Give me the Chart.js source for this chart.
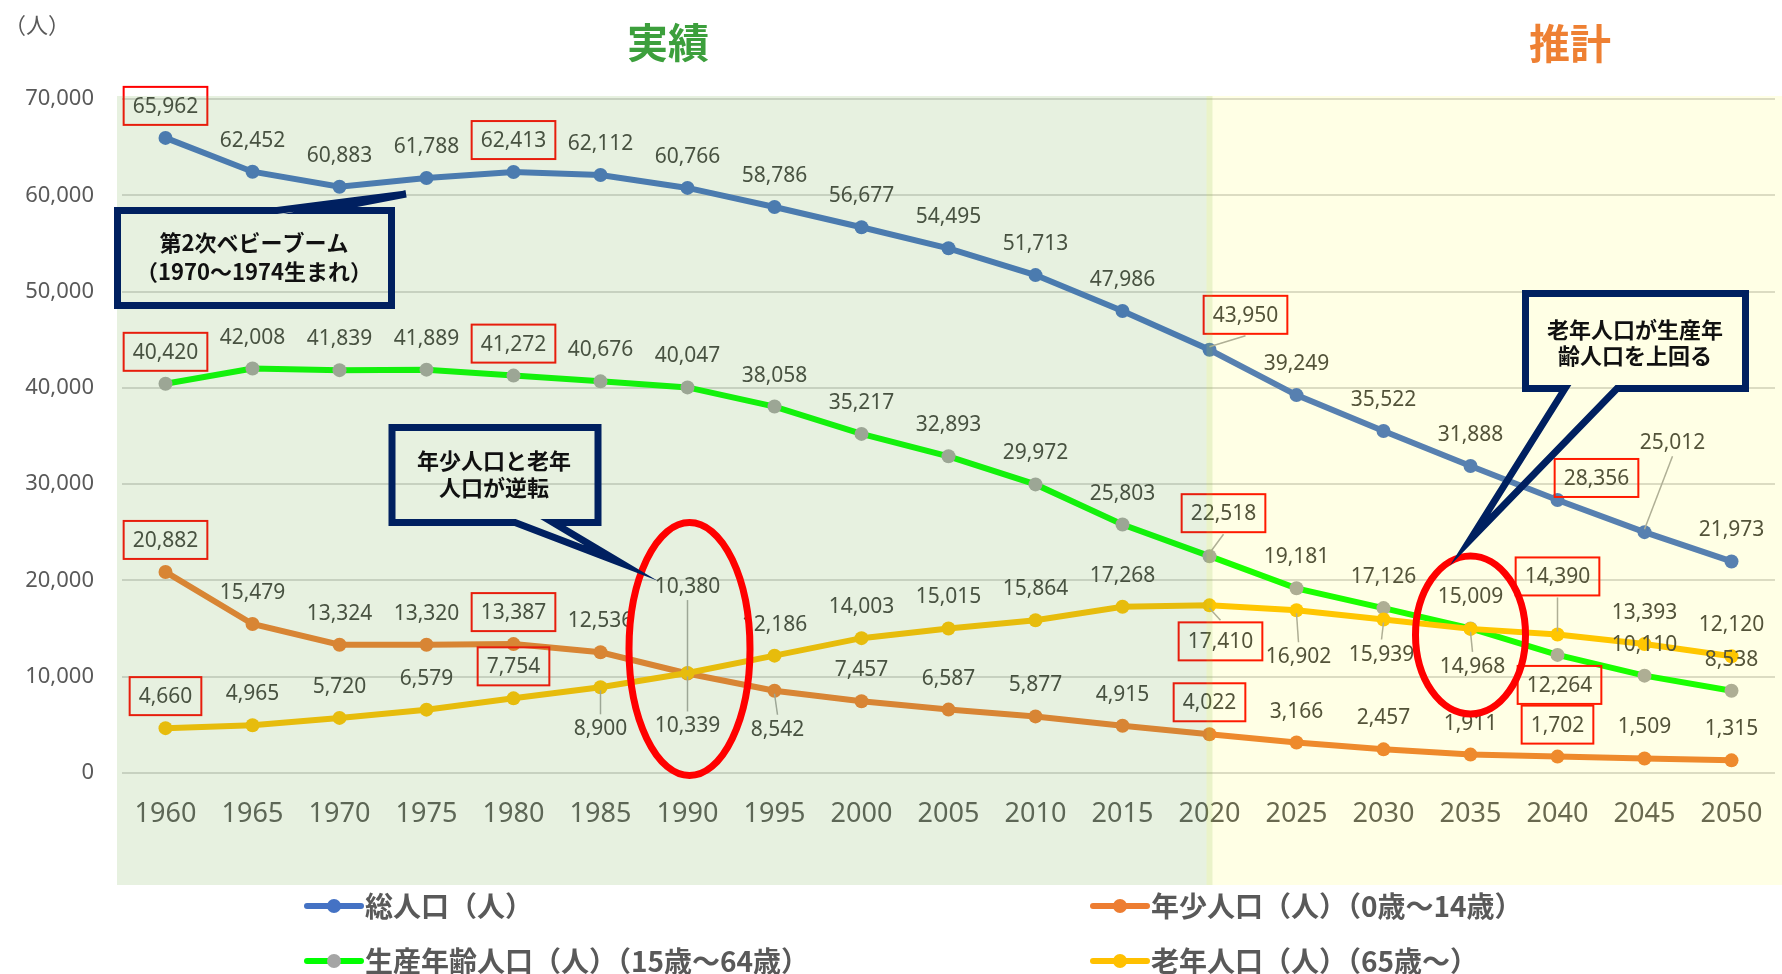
<!DOCTYPE html>
<html lang="ja">
<head>
  <meta charset="UTF-8" />
  <title>人口推移（実績・推計）</title>
  <script src="https://cdn.jsdelivr.net/npm/chart.js"></script>
  <style>
    body { margin: 0; background: #fff; }
    #popChart { display: block; }
  </style>
</head>
<body>
  <canvas id="popChart" width="1782" height="974"></canvas>

  <script>
    const years = ['1960', '1965', '1970', '1975', '1980', '1985', '1990', '1995', '2000', '2005',
                   '2010', '2015', '2020', '2025', '2030', '2035', '2040', '2045', '2050'];
    const totalPop = [65962, 62452, 60883, 61788, 62413, 62112, 60766, 58786, 56677, 54495,
                      51713, 47986, 43950, 39249, 35522, 31888, 28356, 25012, 21973];
    const youthPop = [20882, 15479, 13324, 13320, 13387, 12536, 10339, 8542, 7457, 6587,
                      5877, 4915, 4022, 3166, 2457, 1911, 1702, 1509, 1315];
    const workingPop = [40420, 42008, 41839, 41889, 41272, 40676, 40047, 38058, 35217, 32893,
                        29972, 25803, 22518, 19181, 17126, 15009, 12264, 10110, 8538];
    const elderlyPop = [4660, 4965, 5720, 6579, 7754, 8900, 10380, 12186, 14003, 15015,
                        15864, 17268, 17410, 16902, 15939, 14968, 14390, 13393, 12120];
    const yTickValues = [0, 10000, 20000, 30000, 40000, 50000, 60000, 70000];
    const seriesNames = ['総人口（人）', '年少人口（人）（0歳～14歳）', '生産年齢人口（人）（15歳～64歳）', '老年人口（人）（65歳～）'];
    const boxedYears = ['1960', '1980', '2020', '2040'];
    const splitYear = '2020';

    // ラベル位置の調整 [dx, dy, 引出線] （指定なしは真上）
    const labelMoves = [
      { 12: [36, -35, true], 16: [39, -22, false], 17: [28, -90, true] },
      { 6: [0, 52, true], 7: [3, 38, true] },
      { 12: [14, -43, true], 16: [2, 30, false] },
      { 5: [0, 41, true], 6: [0, -87, true], 12: [11, 36, true], 13: [2, 46, true],
        14: [-2, 34, true], 15: [2, 37, true], 16: [0, -58, true] }
    ];

    const colors = {
      total: '#4472C4',
      youth: '#ED7D31',
      working: '#00FF00',
      workingDot: '#A5A5A5',
      elderly: '#FFC000'
    };

    const callouts = [
      { rect: [117.5, 210.5, 391.5, 305.5], edge: 'top', base: [277, 320], tip: [406, 194],
        lines: ['第2次ベビーブーム', '（1970～1974生まれ）'], cx: 254, ys: [243, 272] },
      { rect: [392, 427.5, 598, 522.5], edge: 'bottom', base: [515, 553], tip: [621, 563],
        lines: ['年少人口と老年', '人口が逆転'], cx: 494, ys: [461, 488] },
      { rect: [1525.5, 293.5, 1745.5, 388.5], edge: 'bottom', base: [1565, 1617], tip: [1470, 540],
        lines: ['老年人口が生産年', '齢人口を上回る'], cx: 1635, ys: [330, 356] }
    ];

    const fmt = v => v.toLocaleString('en-US');
    const NUM_FONT = "'Noto Sans', sans-serif";
    const JP_FONT = "'Noto Sans CJK JP', 'Noto Sans', sans-serif";

    function drawValueLabel(ctx, pt, value, move, boxed) {
      const lx = pt.x + move[0];
      const ly = pt.y + move[1];
      const text = fmt(value);
      ctx.font = '21px ' + NUM_FONT;
      ctx.textAlign = 'center';
      ctx.textBaseline = 'middle';
      const w = ctx.measureText(text).width;
      const halfH = boxed ? 19 : 12;

      if (move[2]) {
        ctx.strokeStyle = '#A6A6A6';
        ctx.lineWidth = 1.5;
        ctx.beginPath();
        const dir = move[1] < 0 ? -1 : 1;
        ctx.moveTo(pt.x, pt.y + dir * 3);
        ctx.lineTo(lx, ly - dir * (halfH + 2));
        ctx.stroke();
      }
      if (boxed) {
        ctx.strokeStyle = '#FF0000';
        ctx.lineWidth = 2;
        ctx.strokeRect(lx - w / 2 - 9, ly - 19, w + 18, 38);
      }
      ctx.fillStyle = '#404040';
      ctx.fillText(text, lx, ly + 1);
    }

    function drawCallout(ctx, c) {
      const [l, t, r, b] = c.rect;
      ctx.beginPath();
      if (c.edge === 'top') {
        ctx.moveTo(l, t);
        ctx.lineTo(c.base[0], t);
        ctx.lineTo(c.tip[0], c.tip[1]);
        ctx.lineTo(c.base[1], t);
        ctx.lineTo(r, t);
        ctx.lineTo(r, b);
        ctx.lineTo(l, b);
      } else {
        ctx.moveTo(l, t);
        ctx.lineTo(r, t);
        ctx.lineTo(r, b);
        ctx.lineTo(c.base[1], b);
        ctx.lineTo(c.tip[0], c.tip[1]);
        ctx.lineTo(c.base[0], b);
        ctx.lineTo(l, b);
      }
      ctx.closePath();
      ctx.strokeStyle = '#002060';
      ctx.lineWidth = 7;
      ctx.lineJoin = 'miter';
      ctx.miterLimit = 12;
      ctx.stroke();

      ctx.fillStyle = '#111';
      ctx.font = 'bold 22px ' + JP_FONT;
      ctx.textAlign = 'center';
      ctx.textBaseline = 'middle';
      c.lines.forEach((line, i) => ctx.fillText(line, c.cx, c.ys[i]));
    }

    const decorPlugin = {
      id: 'decor',
      afterDraw(chart) {
        const ctx = chart.ctx;
        const area = chart.chartArea;
        const xs = chart.scales.x;
        ctx.save();

        // データラベル
        chart.data.datasets.forEach((ds, i) => {
          const meta = chart.getDatasetMeta(i);
          ds.data.forEach((v, j) => {
            const move = labelMoves[i][j] || [0, -32, false];
            drawValueLabel(ctx, meta.data[j], v, move, boxedYears.includes(years[j]));
          });
        });

        // 実績・推計の背景（半透明）
        const splitX = xs.getPixelForValue(years.indexOf(splitYear));
        const top = area.top - 3;
        const h = area.bottom + 112 - top;
        ctx.fillStyle = 'rgba(112,173,71,0.17)';
        ctx.fillRect(area.left - 5, top, splitX + 3 - (area.left - 5), h);
        ctx.fillStyle = 'rgba(255,255,0,0.1)';
        ctx.fillRect(splitX - 3, top, chart.width - splitX + 3, h);

        // 赤い楕円
        const eld = chart.getDatasetMeta(3).data;
        ctx.strokeStyle = '#FF0000';
        ctx.lineWidth = 7;
        ctx.beginPath();
        ctx.ellipse(eld[6].x + 2, eld[6].y - 24, 60.5, 126.5, 0, 0, Math.PI * 2);
        ctx.stroke();
        ctx.beginPath();
        ctx.ellipse(eld[15].x, eld[15].y + 6, 55, 79, 0, 0, Math.PI * 2);
        ctx.stroke();

        // 吹き出し
        callouts.forEach(c => drawCallout(ctx, c));

        // タイトル
        ctx.textAlign = 'center';
        ctx.textBaseline = 'middle';
        ctx.font = 'bold 41px ' + JP_FONT;
        ctx.fillStyle = '#3C9F3C';
        ctx.fillText('実績', 668, 42);
        ctx.fillStyle = '#EE8033';
        ctx.fillText('推計', 1570, 43);

        ctx.font = '22px ' + JP_FONT;
        ctx.fillStyle = '#595959';
        ctx.textAlign = 'left';
        ctx.fillText('（人）', 4, 25);

        // 凡例
        const cols = [307, 1093];
        const rows = [906, 961];
        const slots = [[0, 0], [1, 0], [0, 1], [1, 1]];
        chart.data.datasets.forEach((ds, i) => {
          const x = cols[slots[i][0]];
          const y = rows[slots[i][1]];
          ctx.strokeStyle = ds.borderColor;
          ctx.lineWidth = 6;
          ctx.lineCap = 'round';
          ctx.beginPath();
          ctx.moveTo(x, y);
          ctx.lineTo(x + 54, y);
          ctx.stroke();
          ctx.fillStyle = ds.pointBackgroundColor;
          ctx.beginPath();
          ctx.arc(x + 27, y, 7, 0, Math.PI * 2);
          ctx.fill();
          ctx.fillStyle = '#595959';
          ctx.font = 'bold 28px ' + JP_FONT;
          ctx.textAlign = 'left';
          ctx.textBaseline = 'middle';
          ctx.fillText(ds.label, x + 58, y);
        });

        ctx.restore();
      }
    };

    function series(label, data, line, dot, order) {
      return {
        label: label,
        data: data,
        borderColor: line,
        backgroundColor: dot,
        pointBackgroundColor: dot,
        pointBorderColor: dot,
        pointRadius: 7,
        pointBorderWidth: 0,
        borderWidth: 6,
        tension: 0,
        order: order
      };
    }

    new Chart(document.getElementById('popChart'), {
      type: 'line',
      data: {
        labels: years,
        datasets: [
          series(seriesNames[0], totalPop, colors.total, colors.total, 3),
          series(seriesNames[1], youthPop, colors.youth, colors.youth, 1),
          series(seriesNames[2], workingPop, colors.working, colors.workingDot, 2),
          series(seriesNames[3], elderlyPop, colors.elderly, colors.elderly, 0)
        ]
      },
      options: {
        responsive: false,
        animation: false,
        layout: { padding: { top: 99, right: 6, left: 0, bottom: 0 } },
        plugins: {
          legend: { display: false },
          tooltip: { enabled: false }
        },
        scales: {
          x: {
            offset: true,
            grid: { display: false, drawTicks: false },
            border: { display: false },
            ticks: {
              autoSkip: false,
              maxRotation: 0,
              padding: 25,
              color: '#595959',
              font: { family: NUM_FONT, size: 27 }
            },
            afterFit: scale => {
              scale.height = 201;
              scale.paddingLeft = 0;
              scale.paddingRight = 0;
            }
          },
          y: {
            min: 0,
            max: 70000,
            afterBuildTicks: scale => { scale.ticks = yTickValues.map(v => ({ value: v })); },
            grid: { color: '#D9D9D9', lineWidth: 2, drawTicks: false },
            border: { display: false },
            ticks: {
              padding: 28,
              color: '#595959',
              font: { family: NUM_FONT, size: 22 },
              callback: v => fmt(v)
            },
            afterFit: scale => { scale.width = 122; }
          }
        }
      },
      plugins: [decorPlugin]
    });
  </script>
</body>
</html>
